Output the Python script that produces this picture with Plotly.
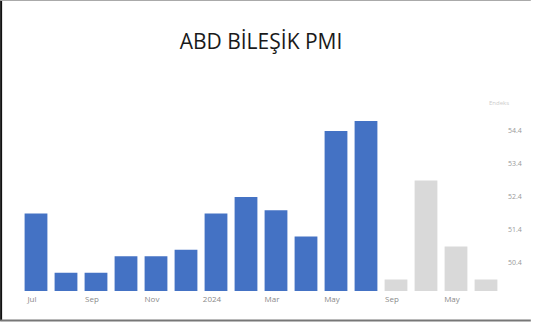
import plotly.graph_objects as go

# ABD Bileşik PMI, aylık
months = ["Jul", "Aug", "Sep", "Oct", "Nov", "Dec", "2024", "Feb", "Mar", "Apr", "May", "Jun",
          "Sep ", "Oct ", "May ", "Jun "]
pmi_actual = [51.9, 50.1, 50.1, 50.6, 50.6, 50.8, 51.9, 52.4, 52.0, 51.2, 54.4, 54.7]
pmi_other = [49.9, 52.9, 50.9, 49.9]
tick_labels = ["Jul", "Sep", "Nov", "2024", "Mar", "May", "Sep", "May"]
y_ticks = [50.4, 51.4, 52.4, 53.4, 54.4]

W, H = 534, 324
L, R, T, B = 21, 30, 100, 33
pw, ph = W - L - R, H - T - B


def px_x(x):
    return (x - L) / pw


def px_y(y):
    return (H - B - y) / ph


n_actual = len(pmi_actual)
fig = go.Figure()
fig.add_bar(x=months[:n_actual], y=pmi_actual, marker_color="#4472C4",
            marker_line_width=0, showlegend=False)
fig.add_bar(x=months[n_actual:], y=pmi_other, marker_color="#D9D9D9",
            marker_line_width=0, showlegend=False)

tick_vals = [months[i] for i in range(0, len(months), 2)]

fig.update_layout(
    width=W, height=H,
    margin=dict(l=L, r=R, t=T, b=B),
    paper_bgcolor="white", plot_bgcolor="white",
    bargap=0.24,
    title=dict(text="ABD BİLEŞİK PMI", x=0.5, xref="paper", xanchor="center",
               y=1 - 42 / H, yanchor="middle",
               font=dict(family="Open Sans", size=21, color="#1a1a1a", weight=500)),
    xaxis=dict(type="category", categoryorder="array", categoryarray=months,
               tickmode="array", tickvals=tick_vals, ticktext=tick_labels,
               tickfont=dict(family="Open Sans", size=8, color="#8a8a8a"),
               showgrid=False, zeroline=False, showline=False, ticks="",
               ticklabelstandoff=2, ticklabelshift=-4),
    yaxis=dict(side="right", range=[49.55, 55.34], tickmode="array",
               tickvals=y_ticks, ticktext=[f"{v:.1f}" for v in y_ticks],
               tickfont=dict(family="Open Sans", size=7, color="#999999"),
               showgrid=False, zeroline=False, showline=False, ticks="",
               ticklabelstandoff=6),
    annotations=[dict(text="Endeks", xref="paper", yref="paper",
                      x=px_x(514), y=px_y(97), showarrow=False,
                      font=dict(family="Open Sans", size=6, color="#cccccc"))],
    shapes=[
        dict(type="line", xref="paper", yref="paper", x0=px_x(1), x1=px_x(1),
             y0=px_y(0), y1=px_y(321), line=dict(color="#111111", width=2)),
        dict(type="line", xref="paper", yref="paper", x0=px_x(0), x1=px_x(W),
             y0=px_y(0.5), y1=px_y(0.5), line=dict(color="#aaaaaa", width=1)),
        dict(type="line", xref="paper", yref="paper", x0=px_x(0), x1=px_x(W),
             y0=px_y(320.5), y1=px_y(320.5), line=dict(color="#777777", width=2)),
    ],
)

fig.write_html("out.html")
